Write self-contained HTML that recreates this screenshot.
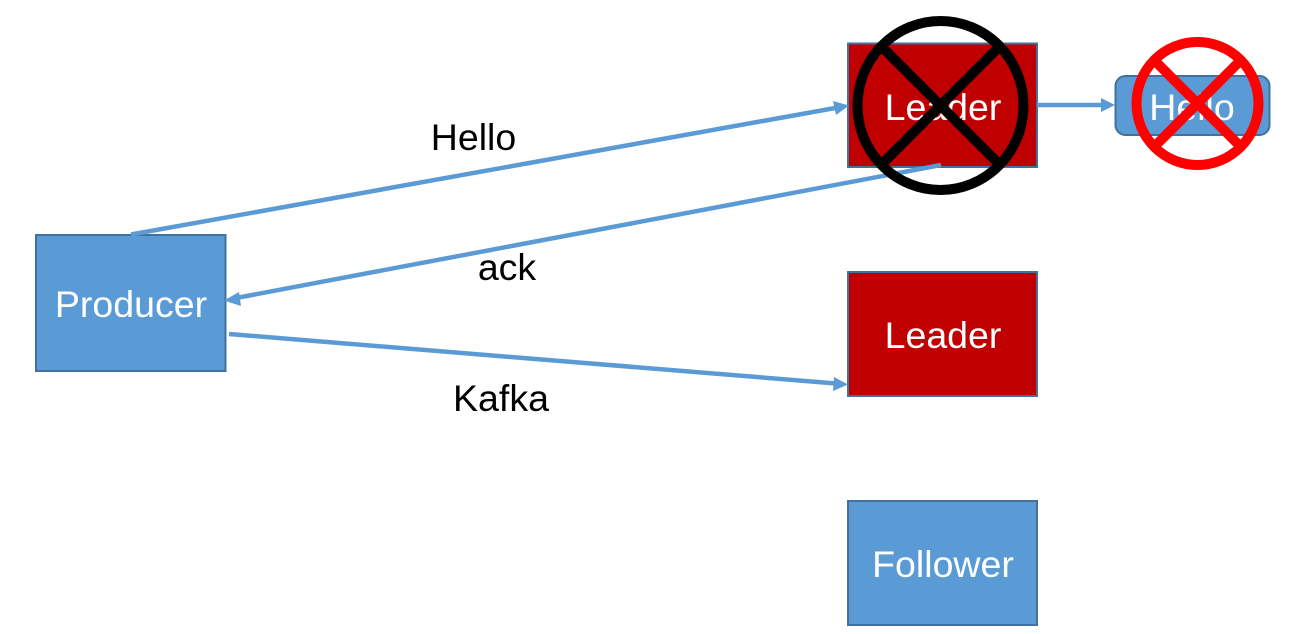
<!DOCTYPE html>
<html>
<head>
<meta charset="utf-8">
<style>
html,body{margin:0;padding:0;background:#fff;width:1315px;height:634px;overflow:hidden}
svg{display:block}
text{font-family:"Liberation Sans",sans-serif;font-size:37.5px}
</style>
</head>
<body>
<svg width="1315" height="634" viewBox="0 0 1315 634" xmlns="http://www.w3.org/2000/svg">
<!-- boxes -->
<rect x="36" y="235" width="189.500" height="136" fill="#5b9bd5" stroke="#41719c" stroke-width="2"/>
<rect x="848" y="43.500" width="189" height="123.500" fill="#c00000" stroke="#41719c" stroke-width="2"/>
<rect x="848" y="272" width="189" height="124" fill="#c00000" stroke="#41719c" stroke-width="2"/>
<rect x="848" y="501" width="189" height="124" fill="#5b9bd5" stroke="#41719c" stroke-width="2"/>
<rect x="1115.500" y="76" width="154" height="59" rx="10" ry="10" fill="#5b9bd5" stroke="#41719c" stroke-width="2"/>
<!-- box labels -->
<text x="131" y="317" text-anchor="middle" fill="#fff">Producer</text>
<text x="943" y="120" text-anchor="middle" fill="#fff">Leader</text>
<text x="943" y="348" text-anchor="middle" fill="#fff">Leader</text>
<text x="943" y="577" text-anchor="middle" fill="#fff">Follower</text>
<text x="1192" y="120" text-anchor="middle" fill="#fff">Hello</text>
<!-- connector labels -->
<text x="473.500" y="150" text-anchor="middle" fill="#000">Hello</text>
<text x="507" y="280" text-anchor="middle" fill="#000">ack</text>
<text x="501" y="411" text-anchor="middle" fill="#000">Kafka</text>
<!-- connectors -->
<g stroke="#5b9bd5" stroke-width="4.500" fill="none">
<line x1="131" y1="234.500" x2="838" y2="107.500"/>
<line x1="941" y1="165" x2="236" y2="298"/>
<line x1="229" y1="334" x2="836" y2="383.500"/>
<line x1="1037" y1="105" x2="1103" y2="105"/>
</g>
<g fill="#5b9bd5">
<polygon points="849,105.500 833,101 836,115"/>
<polygon points="224,300.500 239,292 241,306"/>
<polygon points="848,384.500 834,377 833,391"/>
<polygon points="1115,105 1101,98 1101,112"/>
</g>
<!-- black prohibition -->
<g stroke="#000" stroke-width="10" fill="none">
<ellipse cx="940.500" cy="105.500" rx="83" ry="84.500"/>
<line x1="882" y1="47" x2="999" y2="164"/>
<line x1="999" y1="47" x2="882" y2="164"/>
</g>
<!-- red prohibition -->
<g stroke="#ff0000" stroke-width="10" fill="none">
<ellipse cx="1197.500" cy="103.500" rx="61" ry="61.500"/>
<line x1="1154" y1="60" x2="1241" y2="147"/>
<line x1="1241" y1="60" x2="1154" y2="147"/>
</g>
</svg>
</body>
</html>
